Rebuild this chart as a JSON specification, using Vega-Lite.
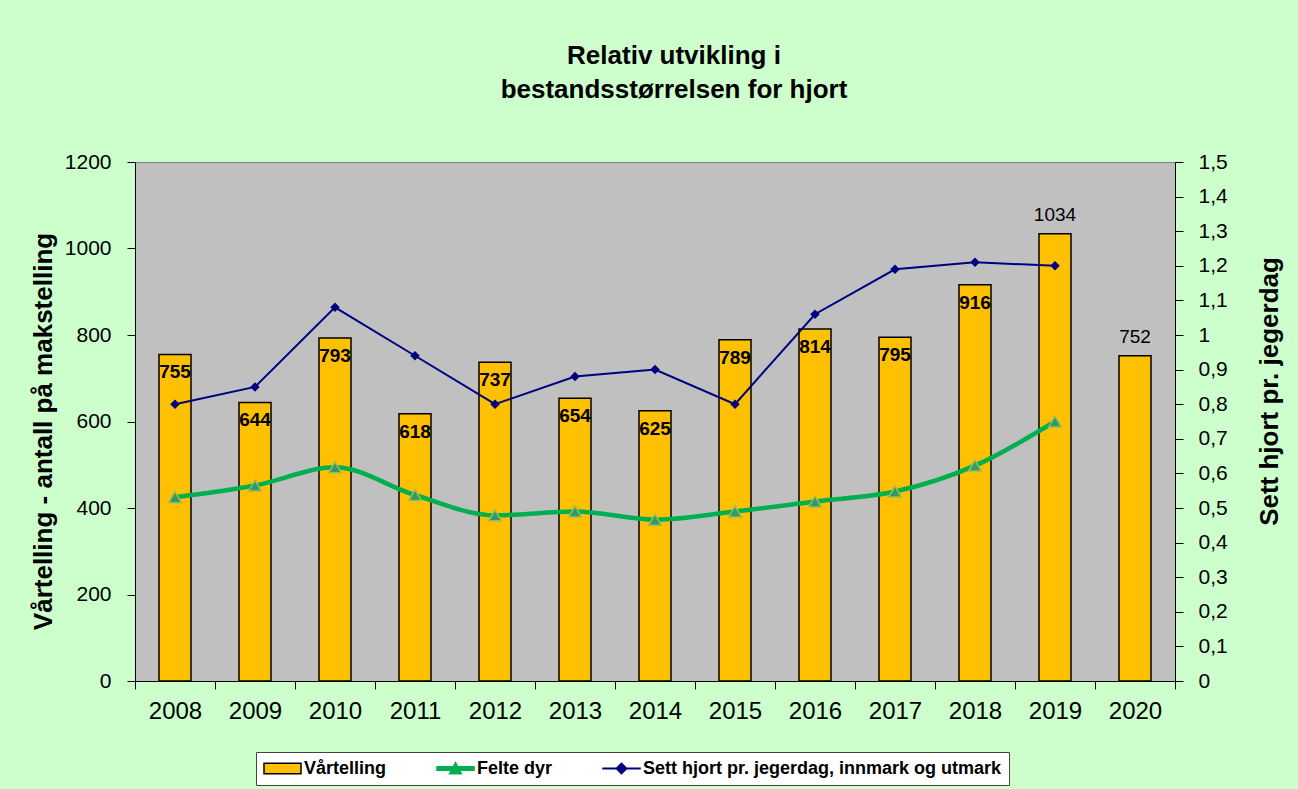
{
  "$schema": "https://vega.github.io/schema/vega-lite/v6.json",
  "autosize": {"type": "none"},
  "width": 1040,
  "height": 519,
  "padding": {"left": 135, "top": 162, "right": 123, "bottom": 108},
  "background": "#CCFFCC",
  "title": {
    "text": ["Relativ utvikling i", "bestandsstørrelsen for hjort"],
    "font": "Liberation Sans",
    "fontSize": 26,
    "fontWeight": "bold",
    "color": "#000000",
    "anchor": "middle",
    "frame": "group",
    "lineHeight": 34,
    "offset": 48,
    "dx": 19
  },
  "config": {
    "view": {"fill": "#C0C0C0", "stroke": "#808080", "strokeWidth": 1},
    "axis": {
      "labelFont": "Liberation Sans",
      "labelFontSize": 21,
      "labelColor": "#000000",
      "domainColor": "#000000",
      "tickColor": "#000000",
      "titleFont": "Liberation Sans",
      "titleFontSize": 26,
      "titleFontWeight": "bold",
      "titleColor": "#000000",
      "grid": false,
      "tickSize": 8
    }
  },
  "data": {
    "values": [
      {"year": "2008", "vartelling": 755, "felte": 425, "sett": 0.80},
      {"year": "2009", "vartelling": 644, "felte": 452, "sett": 0.85},
      {"year": "2010", "vartelling": 793, "felte": 494, "sett": 1.08},
      {"year": "2011", "vartelling": 618, "felte": 430, "sett": 0.94},
      {"year": "2012", "vartelling": 737, "felte": 383, "sett": 0.80},
      {"year": "2013", "vartelling": 654, "felte": 392, "sett": 0.88},
      {"year": "2014", "vartelling": 625, "felte": 373, "sett": 0.90},
      {"year": "2015", "vartelling": 789, "felte": 392, "sett": 0.80},
      {"year": "2016", "vartelling": 814, "felte": 415, "sett": 1.06},
      {"year": "2017", "vartelling": 795, "felte": 438, "sett": 1.19},
      {"year": "2018", "vartelling": 916, "felte": 498, "sett": 1.21},
      {"year": "2019", "vartelling": 1034, "felte": 600, "sett": 1.20},
      {"year": "2020", "vartelling": 752, "felte": null, "sett": null}
    ]
  },
  "encoding": {
    "x": {
      "field": "year",
      "type": "ordinal",
      "scale": {"paddingInner": 0, "paddingOuter": 0},
      "axis": {"title": null, "labelAngle": 0, "tickBand": "extent", "bandPosition": 0, "labelPadding": 10, "labelFontSize": 24}
    }
  },
  "layer": [
    {
      "encoding": {
        "y": {
          "type": "quantitative",
          "scale": {"domain": [0, 1200], "nice": false},
          "axis": {
            "title": "Vårtelling - antall på makstelling",
            "values": [0, 200, 400, 600, 800, 1000, 1200],
            "format": "d",
            "labelPadding": 16,
            "titlePadding": 8,
            "titleY": 269
          }
        }
      },
      "layer": [
        {
          "mark": {"type": "bar", "fill": "#FFC000", "stroke": "#000000", "strokeWidth": 1.5, "width": {"band": 0.4}},
          "encoding": {
            "y": {"field": "vartelling"}
          }
        },
        {
          "mark": {"type": "line", "interpolate": "monotone", "strokeWidth": 4.5, "stroke": "#00B050"},
          "encoding": {
            "y": {"field": "felte"}
          }
        },
        {
          "mark": {"type": "point", "shape": "triangle-up", "filled": true, "fill": "#339966", "stroke": "#9BBB59", "strokeWidth": 1.5, "size": 160, "opacity": 1},
          "encoding": {
            "y": {"field": "felte"}
          }
        },
        {
          "transform": [{"filter": "toNumber(datum.year) < 2019"}],
          "mark": {"type": "text", "font": "Liberation Sans", "fontSize": 19, "fontWeight": "bold", "color": "#000000", "baseline": "middle", "dy": 18},
          "encoding": {
            "y": {"field": "vartelling"},
            "text": {"field": "vartelling"}
          }
        },
        {
          "transform": [{"filter": "toNumber(datum.year) >= 2019"}],
          "mark": {"type": "text", "font": "Liberation Sans", "fontSize": 19, "fontWeight": "normal", "color": "#000000", "baseline": "middle", "dy": -19},
          "encoding": {
            "y": {"field": "vartelling"},
            "text": {"field": "vartelling"}
          }
        },
        {
          "transform": [{"filter": "false"}],
          "mark": {"type": "point", "filled": true, "opacity": 1, "strokeWidth": 1.5},
          "encoding": {
            "fill": {
              "field": "series",
              "type": "nominal",
              "scale": {
                "domain": ["Vårtelling", "Felte dyr", "Sett hjort pr. jegerdag, innmark og utmark"],
                "range": ["#FFC000", "#00B050", "#000080"]
              },
              "legend": {
                "title": null,
                "orient": "none",
                "legendX": 121,
                "legendY": 590,
                "direction": "horizontal",
                "fillColor": "#FFFFFF",
                "strokeColor": "#444444",
                "padding": 7,
                "labelFont": "Liberation Sans",
                "labelFontSize": 18,
                "labelFontWeight": "bold",
                "labelColor": "#000000",
                "labelLimit": 600,
                "labelOffset": 2,
                "columnPadding": 49,
                "symbolSize": 1369,
                "symbolStrokeWidth": 1.5,
                "symbolOpacity": 1,
                "clipHeight": 19
              }
            },
            "stroke": {
              "field": "series",
              "type": "nominal",
              "scale": {
                "domain": ["Vårtelling", "Felte dyr", "Sett hjort pr. jegerdag, innmark og utmark"],
                "range": ["#000000", "#00B050", "#000080"]
              },
              "legend": {"title": null}
            },
            "shape": {
              "field": "series",
              "type": "nominal",
              "scale": {
                "domain": ["Vårtelling", "Felte dyr", "Sett hjort pr. jegerdag, innmark og utmark"],
                "range": [
                  "M-1,-0.28H1V0.28H-1Z",
                  "M-1,-0.1H1V0.1H-1ZM-0.32,0.28L0,-0.32L0.32,0.28Z",
                  "M-1,-0.02H1V0.02H-1ZM0,-0.28L0.28,0L0,0.28L-0.28,0Z"
                ]
              },
              "legend": {"title": null}
            }
          }
        }
      ]
    },
    {
      "encoding": {
        "y": {
          "type": "quantitative",
          "scale": {"domain": [0, 1.5], "nice": false},
          "axis": {
            "orient": "right",
            "title": "Sett hjort pr. jegerdag",
            "values": [0, 0.1, 0.2, 0.3, 0.4, 0.5, 0.6, 0.7, 0.8, 0.9, 1, 1.1, 1.2, 1.3, 1.4, 1.5],
            "labelExpr": "replace(format(datum.value, '.1~f'), '.', ',')",
            "labelPadding": 15,
            "titleAngle": 270,
            "titlePadding": 55,
            "titleY": 229
          }
        }
      },
      "layer": [
        {
          "mark": {"type": "line", "strokeWidth": 2, "stroke": "#000080"},
          "encoding": {
            "y": {"field": "sett"}
          }
        },
        {
          "mark": {"type": "point", "shape": "diamond", "filled": true, "fill": "#000080", "size": 90, "opacity": 1},
          "encoding": {
            "y": {"field": "sett"}
          }
        }
      ]
    }
  ],
  "resolve": {"scale": {"y": "independent"}}
}
